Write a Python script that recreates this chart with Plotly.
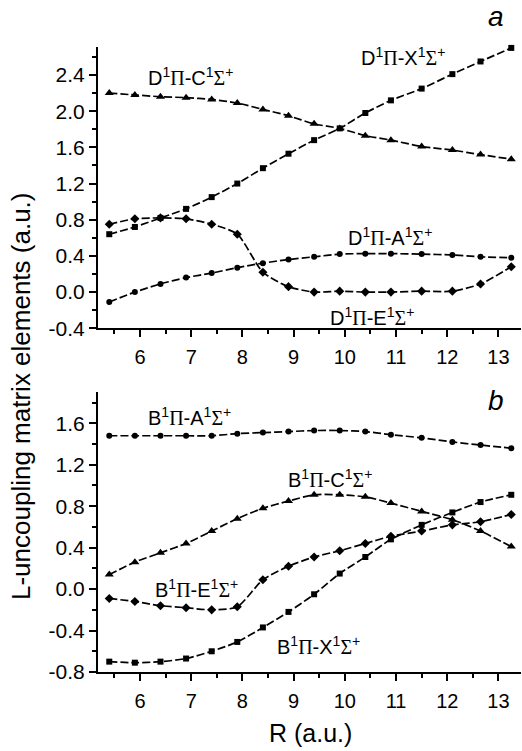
import plotly.graph_objects as go

R = [5.4, 5.9, 6.4, 6.9, 7.4, 7.9, 8.4, 8.9, 9.4, 9.9, 10.4, 10.9, 11.5, 12.1, 12.65, 13.25]

# panel a
D_C = [2.20, 2.18, 2.16, 2.15, 2.13, 2.09, 2.02, 1.95, 1.86, 1.81, 1.73, 1.68, 1.61, 1.57, 1.52, 1.47]
D_X = [0.64, 0.72, 0.82, 0.92, 1.05, 1.20, 1.37, 1.53, 1.68, 1.81, 1.98, 2.12, 2.25, 2.41, 2.55, 2.70]
D_E = [0.75, 0.81, 0.82, 0.81, 0.75, 0.64, 0.22, 0.06, 0.00, 0.01, 0.00, 0.00, 0.01, 0.01, 0.09, 0.28]
D_A = [-0.11, 0.00, 0.09, 0.16, 0.21, 0.27, 0.32, 0.36, 0.39, 0.42, 0.425, 0.425, 0.42, 0.41, 0.39, 0.38]

# panel b
B_A = [1.48, 1.48, 1.48, 1.48, 1.48, 1.50, 1.51, 1.52, 1.53, 1.53, 1.52, 1.49, 1.46, 1.42, 1.39, 1.36]
B_C = [0.14, 0.26, 0.35, 0.44, 0.56, 0.68, 0.78, 0.85, 0.91, 0.91, 0.89, 0.83, 0.75, 0.67, 0.56, 0.41]
B_E = [-0.09, -0.12, -0.16, -0.18, -0.20, -0.17, 0.09, 0.22, 0.31, 0.37, 0.44, 0.51, 0.56, 0.62, 0.65, 0.72]
B_X = [-0.70, -0.71, -0.70, -0.67, -0.60, -0.51, -0.37, -0.22, -0.05, 0.15, 0.31, 0.48, 0.62, 0.74, 0.84, 0.91]

x_ticks = [6, 7, 8, 9, 10, 11, 12, 13]
x_ticktext = ["6", "7", "8", "9", "10", "11", "12", "13"]
ya_ticks = [-0.4, 0.0, 0.4, 0.8, 1.2, 1.6, 2.0, 2.4]
ya_ticktext = ["-0.4", "0.0", "0.4", "0.8", "1.2", "1.6", "2.0", "2.4"]
yb_ticks = [-0.8, -0.4, 0.0, 0.4, 0.8, 1.2, 1.6]
yb_ticktext = ["-0.8", "-0.4", "0.0", "0.4", "0.8", "1.2", "1.6"]

FONT = "Liberation Sans, Arial, sans-serif"
SER = "Liberation Serif, Times New Roman, serif"


def lab(a, b):
    return (f"{a}<sup>1</sup><span style='font-family:{SER}'>Π</span>-{b}<sup>1</sup>"
            f"<span style='font-family:{SER}'>Σ</span><sup>+</sup>")


fig = go.Figure()

line = dict(color="black", width=1.7, dash="8px,3px", shape="spline", smoothing=0.7)


def add(y, sym, size, xa, ya):
    fig.add_trace(go.Scatter(x=R, y=y, mode="lines+markers", line=line,
                             marker=dict(symbol=sym, size=size, color="black"),
                             xaxis=xa, yaxis=ya, showlegend=False, cliponaxis=False))


add(D_C, "triangle-up", 8, "x", "y")
add(D_X, "square", 6, "x", "y")
add(D_E, "diamond", 7, "x", "y")
add(D_A, "circle", 6, "x", "y")
add(B_A, "circle", 6, "x2", "y2")
add(B_C, "triangle-up", 8, "x2", "y2")
add(B_E, "diamond", 7, "x2", "y2")
add(B_X, "square", 6, "x2", "y2")

xcommon = dict(range=[5.18, 13.44], tickvals=x_ticks, ticktext=x_ticktext,
               showline=True, linecolor="black", linewidth=2, ticks="outside",
               ticklen=7, tickwidth=2, tickcolor="black", showgrid=False, zeroline=False,
               ticklabelstandoff=3,
               tickfont=dict(size=20, color="black", family=FONT),
               minor=dict(dtick=0.5, tick0=5.5, ticks="outside", ticklen=4, tickwidth=2,
                          tickcolor="black", showgrid=False))
ycommon = dict(showline=True, linecolor="black", linewidth=2, ticks="outside",
               ticklen=7, tickwidth=2, tickcolor="black", showgrid=False, zeroline=False,
               tickfont=dict(size=21, color="black", family=FONT))

fig.update_layout(
    width=522, height=751,
    margin=dict(l=98, r=1, t=47, b=79),
    paper_bgcolor="white", plot_bgcolor="white",
    font=dict(family=FONT, color="black"),
    xaxis=dict(domain=[0, 1], anchor="y", **xcommon),
    yaxis=dict(domain=[0.55, 1.0], anchor="x", range=[-0.4, 2.71],
               tickvals=ya_ticks, ticktext=ya_ticktext,
               minor=dict(dtick=0.2, tick0=0, ticks="outside", ticklen=4, tickwidth=2,
                          tickcolor="black", showgrid=False),
               **ycommon),
    xaxis2=dict(domain=[0, 1], anchor="y2", **xcommon),
    yaxis2=dict(domain=[0, 0.4485], anchor="x2", range=[-0.8, 1.905],
                tickvals=yb_ticks, ticktext=yb_ticktext,
                minor=dict(dtick=0.2, tick0=0, ticks="outside", ticklen=4, tickwidth=2,
                           tickcolor="black", showgrid=False),
                **ycommon),
)

ann = [
    dict(text=lab("D", "C"), x=6.98, y=2.38, xref="x", yref="y"),
    dict(text=lab("D", "X"), x=11.14, y=2.60, xref="x", yref="y"),
    dict(text=lab("D", "A"), x=10.88, y=0.61, xref="x", yref="y"),
    dict(text=lab("D", "E"), x=10.53, y=-0.275, xref="x", yref="y"),
    dict(text=lab("B", "A"), x=6.96, y=1.67, xref="x2", yref="y2"),
    dict(text=lab("B", "C"), x=9.71, y=1.063, xref="x2", yref="y2"),
    dict(text=lab("B", "E"), x=7.11, y=0.003, xref="x2", yref="y2"),
    dict(text=lab("B", "X"), x=9.48, y=-0.547, xref="x2", yref="y2"),
]
for a in ann:
    fig.add_annotation(showarrow=False, xanchor="center", yanchor="middle",
                       font=dict(size=20, color="black", family=FONT), **a)

fig.add_annotation(text="<i>a</i>", x=0.941, y=1.048, xref="paper", yref="paper",
                   showarrow=False, xanchor="center", yanchor="middle",
                   font=dict(size=28, color="black", family=FONT))
fig.add_annotation(text="<i>b</i>", x=0.940, y=0.434, xref="paper", yref="paper",
                   showarrow=False, xanchor="center", yanchor="middle",
                   font=dict(size=28, color="black", family=FONT))
fig.add_annotation(text="L-uncoupling matrix elements (a.u.)", x=-0.182, y=0.4416,
                   xref="paper", yref="paper", textangle=-90, showarrow=False,
                   xanchor="center", yanchor="middle",
                   font=dict(size=26, color="black", family=FONT))
fig.add_annotation(text="R (a.u.)", x=0.5035, y=-0.0976, xref="paper", yref="paper",
                   showarrow=False, xanchor="center", yanchor="middle",
                   font=dict(size=25, color="black", family=FONT))

fig.write_html("out.html")
